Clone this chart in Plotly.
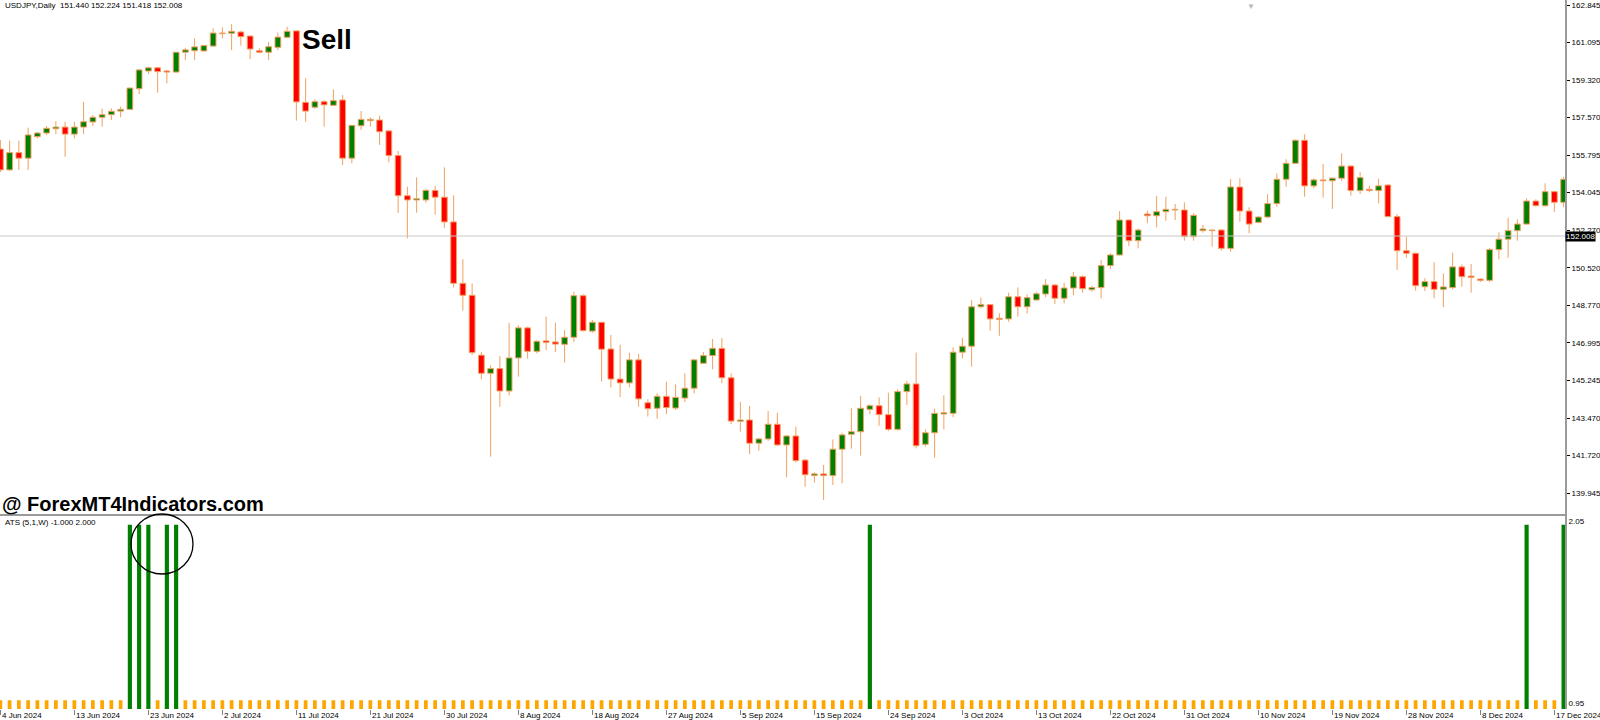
import plotly.graph_objects as go

# USDJPY daily candles, 4 Jun 2024 .. 18 Dec 2024 (broker with Sunday bars)
opens = [
    156.09, 155.11, 155.92, 155.66, 156.67, 156.84, 157.04, 157.12, 156.79, 157.12,
    157.36, 157.58, 157.70, 157.87, 157.95, 158.92, 159.75, 159.90, 159.75, 159.70,
    160.63, 160.70, 160.69, 160.92, 161.53, 161.52, 161.58, 161.39, 160.70, 160.63,
    160.86, 161.33, 161.63, 158.28, 158.05, 158.31, 158.14, 158.39, 155.66, 157.18,
    157.42, 157.45, 156.94, 155.79, 153.90, 153.70, 153.70, 154.15, 153.83, 152.67,
    149.79, 149.23, 146.42, 145.57, 145.79, 144.74, 146.29, 147.70, 146.60, 147.09,
    147.04, 146.93, 147.26, 149.21, 147.55, 147.96, 146.71, 145.30, 145.12, 146.20,
    144.19, 143.93, 144.49, 143.94, 144.41, 144.87, 146.04, 146.40, 146.74, 145.36,
    143.32, 143.38, 142.29, 142.49, 143.18, 142.21, 142.63, 141.50, 140.77, 140.85,
    140.77, 142.01, 142.71, 142.83, 143.88, 144.05, 143.63, 142.94, 144.71, 145.07,
    142.24, 142.78, 143.66, 143.69, 146.56, 146.84, 148.69, 148.79, 148.15, 148.12,
    149.16, 148.69, 149.01, 149.29, 149.71, 149.09, 149.57, 150.10, 149.49, 149.59,
    150.62, 151.12, 152.76, 151.79, 153.04, 152.96, 153.15, 153.23, 153.23, 151.98,
    152.26, 152.26, 152.29, 151.43, 154.31, 153.18, 152.65, 152.90, 153.53, 154.67,
    155.42, 156.50, 154.36, 154.64, 154.60, 154.72, 155.29, 154.14, 154.20, 154.14,
    154.40, 152.92, 151.32, 151.20, 149.63, 149.87, 149.51, 149.59, 150.56, 150.13,
    149.99, 149.93, 151.37, 151.86, 152.26, 152.57, 153.65, 153.43, 154.09, 153.59,
]
highs = [
    156.51, 156.48, 156.48, 157.09, 156.90, 157.17, 157.40, 157.37, 157.37, 158.31,
    157.69, 157.98, 158.00, 158.08, 158.97, 159.84, 159.95, 159.95, 159.80, 160.64,
    160.84, 161.28, 160.97, 161.75, 161.80, 161.95, 161.63, 161.40, 160.81, 161.11,
    161.55, 161.83, 161.65, 159.41, 158.42, 158.39, 158.89, 158.62, 157.22, 157.87,
    157.58, 157.65, 156.96, 156.00, 154.32, 154.76, 154.21, 154.36, 155.23, 153.92,
    150.92, 149.79, 146.57, 145.95, 146.38, 147.94, 147.82, 147.76, 147.13, 148.23,
    147.94, 147.60, 149.40, 149.28, 148.07, 147.99, 147.37, 146.91, 146.54, 146.48,
    144.35, 144.63, 145.18, 145.05, 145.57, 146.23, 146.57, 147.18, 147.23, 145.57,
    144.24, 144.04, 142.55, 143.80, 143.72, 142.68, 143.07, 141.55, 140.93, 141.27,
    142.47, 142.78, 143.93, 144.51, 144.12, 144.44, 144.66, 144.82, 145.22, 146.54,
    142.94, 143.91, 144.54, 146.79, 147.24, 149.01, 149.12, 148.81, 148.38, 149.35,
    149.60, 149.28, 149.38, 149.99, 149.76, 149.82, 150.32, 150.17, 149.67, 150.89,
    151.20, 153.18, 152.79, 152.37, 153.20, 153.89, 153.85, 153.51, 153.59, 153.08,
    152.53, 152.31, 152.34, 154.68, 154.72, 153.36, 152.95, 153.97, 154.95, 155.61,
    156.54, 156.78, 154.72, 155.39, 154.76, 155.89, 155.34, 155.01, 154.36, 154.70,
    154.45, 153.04, 151.98, 151.23, 150.03, 150.78, 150.26, 151.23, 150.68, 150.70,
    150.04, 151.45, 152.18, 152.87, 152.79, 153.78, 153.73, 154.48, 154.12, 154.79,
]
lows = [
    155.01, 155.07, 155.11, 155.11, 156.59, 156.75, 156.79, 155.73, 156.59, 156.79,
    157.17, 157.14, 157.45, 157.58, 157.93, 158.67, 159.60, 158.73, 159.17, 159.68,
    160.27, 160.27, 160.66, 160.89, 161.28, 160.73, 160.94, 160.31, 160.58, 160.27,
    160.73, 161.28, 157.42, 157.37, 157.97, 157.14, 158.11, 155.34, 155.42, 156.98,
    157.14, 156.28, 155.47, 153.09, 151.90, 153.10, 153.57, 153.01, 152.39, 149.60,
    148.51, 146.43, 145.29, 141.66, 144.00, 144.54, 145.41, 146.26, 146.51, 146.66,
    146.57, 146.07, 147.04, 147.52, 147.47, 145.18, 144.91, 144.45, 144.91, 144.00,
    143.54, 143.44, 143.66, 143.85, 144.22, 144.63, 146.01, 145.76, 145.10, 143.18,
    142.83, 141.77, 141.94, 142.40, 142.16, 140.69, 141.40, 140.25, 140.44, 139.63,
    140.33, 140.41, 142.03, 141.71, 143.66, 143.11, 142.86, 142.88, 144.08, 142.05,
    142.13, 141.61, 142.94, 143.51, 146.27, 145.88, 148.62, 147.57, 147.33, 147.99,
    148.23, 148.38, 148.98, 149.14, 148.82, 148.85, 149.23, 149.35, 149.40, 149.09,
    150.46, 151.10, 151.54, 151.43, 152.61, 152.42, 152.73, 152.76, 151.79, 151.79,
    152.17, 151.51, 151.32, 151.27, 152.68, 152.14, 152.61, 152.84, 153.38, 154.32,
    155.40, 153.85, 154.25, 153.81, 153.28, 154.60, 153.90, 153.98, 154.06, 153.54,
    152.89, 150.42, 150.99, 149.45, 149.43, 149.09, 148.67, 149.51, 149.63, 149.35,
    149.85, 149.85, 150.92, 150.99, 151.79, 152.55, 153.39, 153.39, 153.14, 153.36,
]
closes = [
    155.11, 155.92, 155.66, 156.75, 156.84, 157.06, 157.12, 156.79, 157.12, 157.37,
    157.58, 157.70, 157.86, 157.95, 158.95, 159.80, 159.90, 159.72, 159.70, 160.63,
    160.74, 160.88, 160.94, 161.53, 161.50, 161.61, 161.36, 160.78, 160.63, 160.89,
    161.34, 161.61, 158.30, 157.87, 158.31, 158.16, 158.36, 155.66, 157.20, 157.48,
    157.48, 156.90, 155.78, 153.90, 153.70, 153.76, 154.15, 153.83, 152.67, 149.79,
    149.23, 146.54, 145.57, 145.79, 144.74, 146.29, 147.70, 146.60, 147.07, 147.01,
    146.94, 147.26, 149.21, 147.57, 147.96, 146.70, 145.30, 145.12, 146.20, 144.37,
    143.91, 144.49, 143.96, 144.44, 144.87, 146.20, 146.40, 146.74, 145.36, 143.33,
    143.38, 142.29, 142.49, 143.18, 142.21, 142.63, 141.47, 140.81, 140.85, 140.77,
    142.01, 142.68, 142.83, 143.93, 144.05, 143.63, 142.94, 144.71, 145.07, 142.17,
    142.78, 143.69, 143.72, 146.56, 146.84, 148.69, 148.79, 148.12, 148.10, 149.16,
    148.69, 149.12, 149.30, 149.71, 149.09, 149.57, 150.10, 149.54, 149.59, 150.62,
    151.12, 152.76, 151.79, 152.29, 152.96, 153.15, 153.26, 153.26, 151.98, 152.98,
    152.34, 152.29, 151.43, 154.31, 153.18, 152.57, 152.90, 153.53, 154.67, 155.42,
    156.50, 154.36, 154.64, 154.60, 154.72, 155.29, 154.14, 154.75, 154.14, 154.36,
    152.92, 151.32, 151.20, 149.68, 149.87, 149.51, 149.62, 150.56, 150.10, 150.07,
    149.93, 151.37, 151.86, 152.26, 152.57, 153.65, 153.43, 154.09, 153.59, 154.67,
]

# ATS (5,1,W) histogram: 2 = signal bar (green), 1 = no signal (orange)
ats = [
    1, 1, 1, 1, 1, 1, 1, 1, 1, 1, 1, 1, 1, 1, 2, 2, 2, 1, 2, 2,
    1, 1, 1, 1, 1, 1, 1, 1, 1, 1, 1, 1, 1, 1, 1, 1, 1, 1, 1, 1,
    1, 1, 1, 1, 1, 1, 1, 1, 1, 1, 1, 1, 1, 1, 1, 1, 1, 1, 1, 1,
    1, 1, 1, 1, 1, 1, 1, 1, 1, 1, 1, 1, 1, 1, 1, 1, 1, 1, 1, 1,
    1, 1, 1, 1, 1, 1, 1, 1, 1, 1, 1, 1, 1, 1, 2, 1, 1, 1, 1, 1,
    1, 1, 1, 1, 1, 1, 1, 1, 1, 1, 1, 1, 1, 1, 1, 1, 1, 1, 1, 1,
    1, 1, 1, 1, 1, 1, 1, 1, 1, 1, 1, 1, 1, 1, 1, 1, 1, 1, 1, 1,
    1, 1, 1, 1, 1, 1, 1, 1, 1, 1, 1, 1, 1, 1, 1, 1, 1, 1, 1, 1,
    1, 1, 1, 1, 1, 2, 1, 1, 1, 2,
]

date_labels = [
    '4 Jun 2024', '13 Jun 2024', '23 Jun 2024', '2 Jul 2024', '11 Jul 2024',
    '21 Jul 2024', '30 Jul 2024', '8 Aug 2024', '18 Aug 2024', '27 Aug 2024',
    '5 Sep 2024', '15 Sep 2024', '24 Sep 2024', '3 Oct 2024', '13 Oct 2024',
    '22 Oct 2024', '31 Oct 2024', '10 Nov 2024', '19 Nov 2024', '28 Nov 2024',
    '8 Dec 2024', '17 Dec 2024',
]
label_step = 8

price_ticks = [162.845, 161.095, 159.320, 157.570, 155.795, 154.045, 152.270,
               150.520, 148.770, 146.995, 145.245, 143.470, 141.720, 139.945]
last_bar = [151.440, 152.224, 151.418, 152.008]
bid = 152.008

GREEN = '#008000'
RED = '#FF0000'
WICK = '#F0A060'
ORANGE = '#FFA500'
AXIS = '#9A9A9A'
FONT = 'Liberation Sans'
FS = 8

n = len(opens)
idx = list(range(n))

body_base = [min(o, c) for o, c in zip(opens, closes)]
body_h = [max(abs(c - o), 0.02) for o, c in zip(opens, closes)]
body_col = [GREEN if c >= o else RED for o, c in zip(opens, closes)]

wx, wy = [], []
for i in idx:
    top = max(opens[i], closes[i])
    bot = min(opens[i], closes[i])
    wx += [i, i, None, i, i, None]
    wy += [highs[i], top, None, bot, lows[i], None]

fig = go.Figure()
fig.add_trace(go.Scatter(x=wx, y=wy, mode='lines', line=dict(color=WICK, width=1),
                         hoverinfo='skip', xaxis='x', yaxis='y'))
fig.add_trace(go.Bar(x=idx, y=body_h, base=body_base, width=0.62,
                     marker=dict(color=body_col, line=dict(color=WICK, width=1)),
                     xaxis='x', yaxis='y'))
fig.add_trace(go.Bar(x=idx, y=ats, base=0,
                     width=[0.45 if v == 2 else 0.4 for v in ats],
                     marker=dict(color=[GREEN if v == 2 else ORANGE for v in ats], line=dict(width=0)),
                     xaxis='x2', yaxis='y2'))

xr = [-0.04, 169.15]
main_bottom = 1 - 514 / 720
ind_top = 1 - 516 / 720
ind_bottom = 11 / 720

fig.update_layout(
    width=1600, height=720, autosize=False,
    margin=dict(l=0, r=35, t=0, b=0, pad=0),
    paper_bgcolor='white', plot_bgcolor='white',
    template='none', showlegend=False, barmode='overlay',
    font=dict(family=FONT, size=FS, color='black'),
    xaxis=dict(domain=[0, 1], range=xr, showticklabels=False, ticks='', showgrid=False,
               zeroline=False, showline=True, linecolor=AXIS, linewidth=2,
               anchor='y', automargin=False),
    yaxis=dict(domain=[main_bottom, 1], range=[138.97, 163.08], side='right',
               tickvals=price_ticks, ticktext=['%.3f' % v for v in price_ticks],
               ticks='outside', ticklen=3, tickcolor='black', showgrid=False,
               zeroline=False, showline=True, linecolor=AXIS, linewidth=2,
               anchor='x', automargin=False, ticklabeloverflow='allow',
               tickfont=dict(family=FONT, size=FS, color='black')),
    xaxis2=dict(domain=[0, 1], range=xr, matches='x', anchor='y2',
                tickvals=idx[::label_step], ticks='outside', ticklen=5, tickcolor='#808080',
                showticklabels=False, showgrid=False, zeroline=False, showline=False,
                automargin=False),
    yaxis2=dict(domain=[ind_bottom, ind_top], range=[0.95, 2.05], side='right',
                tickvals=[0.984, 2.021], ticktext=['0.95', '2.05'], ticks='',
                showgrid=False, zeroline=False, showline=True, linecolor=AXIS, linewidth=2,
                anchor='x2', automargin=False, ticklabeloverflow='allow',
                tickfont=dict(family=FONT, size=FS, color='black')),
)

# bid line and price box
fig.add_shape(type='line', xref='x', yref='y', x0=xr[0], x1=xr[1], y0=bid, y1=bid,
              line=dict(color='#C8C8C8', width=1))
fig.add_annotation(xref='paper', yref='y', x=1, y=bid, xanchor='left', yanchor='middle',
                   text='%.3f' % bid, showarrow=False, bgcolor='black', borderpad=0,
                   font=dict(family=FONT, size=FS, color='white'))

# date labels, left-aligned on their ticks like MT4
for k, lab in enumerate(date_labels):
    fig.add_annotation(xref='x2', yref='paper', x=idx[k * label_step], y=1 - 715 / 720,
                       xanchor='left', yanchor='middle', xshift=0, text=lab, showarrow=False,
                       font=dict(family=FONT, size=FS, color='black'))

fig.add_annotation(xref='paper', yref='paper', x=0.002, y=1 - 6 / 720, xanchor='left', yanchor='middle',
                   text='USDJPY,Daily\u00a0\u00a0' + ' '.join('%.3f' % v for v in last_bar),
                   showarrow=False, font=dict(family=FONT, size=FS, color='black'))
fig.add_annotation(xref='paper', yref='paper', x=0.002, y=1 - 522 / 720, xanchor='left', yanchor='middle',
                   text='ATS (5,1,W) -1.000 2.000', showarrow=False,
                   font=dict(family=FONT, size=FS, color='black'))
fig.add_annotation(xref='paper', yref='paper', x=300 / 1565, y=1 - 39 / 720, xanchor='left', yanchor='middle',
                   text='<b>Sell</b>', showarrow=False,
                   font=dict(family=FONT, size=28, color='black'))
fig.add_annotation(xref='paper', yref='paper', x=0.0, y=1 - 504 / 720, xanchor='left', yanchor='middle',
                   text='<b>@ ForexMT4Indicators.com</b>', showarrow=False,
                   font=dict(family=FONT, size=20, color='black'))
fig.add_annotation(xref='paper', yref='paper', x=1251 / 1565, y=1, xanchor='center', yanchor='top',
                   text='\u25bc', showarrow=False, font=dict(family=FONT, size=8, color='#B8B8B8'))

# hand drawn circle around the signal cluster
fig.add_shape(type='circle', xref='paper', yref='paper', x0=131 / 1565, x1=193 / 1565,
              y0=1 - 574 / 720, y1=1 - 514 / 720, line=dict(color='black', width=1.3))

fig.write_html("out.html", config={'displayModeBar': False},
               post_script="document.body.style.margin='0';document.body.style.overflow='hidden';")
